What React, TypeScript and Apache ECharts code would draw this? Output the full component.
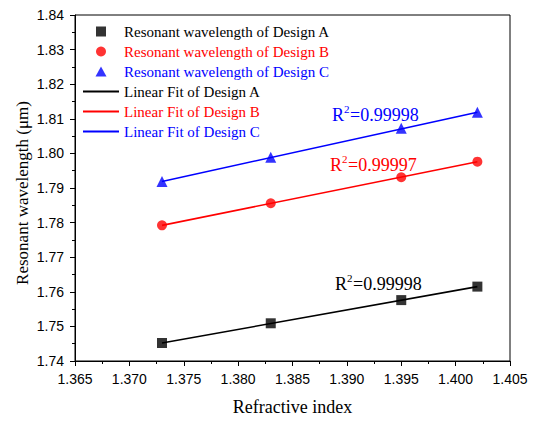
import React, { useEffect, useRef } from 'react';
import * as echarts from 'echarts';

const refractiveIndex = [1.373, 1.383, 1.395, 1.402];
const designA = [1.7452, 1.7509, 1.7576, 1.7615];
const designB = [1.7792, 1.7856, 1.7931, 1.7976];
const designC = [1.7919, 1.7989, 1.8073, 1.8119];
const fitX = [1.373, 1.402];
const fitA = [1.7452, 1.7615];
const fitB = [1.7792, 1.7976];
const fitC = [1.7919, 1.8119];
const markerNames = [
  'Resonant wavelength of Design A',
  'Resonant wavelength of Design B',
  'Resonant wavelength of Design C',
];
const fitNames = ['Linear Fit of Design A', 'Linear Fit of Design B', 'Linear Fit of Design C'];
const r2Values = ['0.99998', '0.99997', '0.99998'];
const xTitle = 'Refractive index';
const yTitle = 'Resonant wavelength (μm)';

const COLORS = ['#000000', '#ff0000', '#0000ff'];
const SYMBOLS = ['rect', 'circle', 'triangle'];
const SYMBOL_SIZES = [10, 10, 11];
const LEGEND_ICONS = [
  'path://M0,0h10v10h-10z',
  'path://M5,0A5,5,0,1,1,4.99,0z',
  'path://M5.5,0L11,10L0,10z',
];
const LINE_ICON = 'path://M0,0h36v2h-36z';
const SERIF = '"Liberation Serif", "Times New Roman", serif';
const SANS = '"Liberation Sans", Arial, sans-serif';

function r2Group(x: number, y: number, value: string, color: string) {
  return {
    type: 'group',
    x,
    y,
    children: [
      { type: 'text', x: 0, y: 0, style: { text: 'R', fontSize: 18, fontFamily: SERIF, fill: color, textVerticalAlign: 'middle' } },
      { type: 'text', x: 12, y: -6, style: { text: '2', fontSize: 11, fontFamily: SERIF, fill: color, textVerticalAlign: 'middle' } },
      { type: 'text', x: 18, y: 0, style: { text: '=' + value, fontSize: 18, fontFamily: SERIF, fill: color, textVerticalAlign: 'middle' } },
    ],
  };
}

export default function App() {
  const ref = useRef<HTMLDivElement>(null);
  useEffect(() => {
    if (!ref.current) return;
    const chart = echarts.init(ref.current, undefined, { renderer: 'svg' });
    const dataSets = [designA, designB, designC];
    const fits = [fitA, fitB, fitC];
    const series: any[] = [];
    dataSets.forEach((d, i) => {
      series.push({
        name: markerNames[i],
        type: 'scatter',
        symbol: SYMBOLS[i],
        symbolSize: SYMBOL_SIZES[i],
        itemStyle: { color: COLORS[i] },
        z: 5,
        data: refractiveIndex.map((x, j) => [x, d[j]]),
      });
    });
    fits.forEach((f, i) => {
      series.push({
        name: fitNames[i],
        type: 'line',
        symbol: 'none',
        showSymbol: false,
        lineStyle: { color: COLORS[i], width: 1.6 },
        itemStyle: { color: COLORS[i] },
        z: 3,
        data: fitX.map((x, j) => [x, f[j]]),
      });
    });
    const axisCommon = {
      axisLine: { show: true, lineStyle: { color: '#000', width: 1 } },
      axisTick: { show: true, inside: false, length: 5, lineStyle: { color: '#000' } },
      minorTick: { show: true, splitNumber: 2, length: 3, lineStyle: { color: '#000' } },
      splitLine: { show: false },
      minorSplitLine: { show: false },
    };
    const legendData = [
      ...markerNames.map((n, i) => ({
        name: n,
        icon: LEGEND_ICONS[i],
        itemStyle: { color: COLORS[i] },
        textStyle: { color: COLORS[i], fontSize: 15, fontFamily: SERIF },
      })),
      ...fitNames.map((n, i) => ({
        name: n,
        icon: LINE_ICON,
        itemStyle: { color: COLORS[i] },
        textStyle: { color: COLORS[i], fontSize: 15, fontFamily: SERIF },
      })),
    ];
    chart.setOption({
      animation: false,
      backgroundColor: '#fff',
      grid: { left: 75, right: 23, top: 15, bottom: 55, show: true, borderColor: '#000', borderWidth: 1, backgroundColor: 'transparent' },
      xAxis: {
        type: 'value',
        min: 1.365,
        max: 1.405,
        interval: 0.005,
        ...axisCommon,
        axisLabel: { margin: 11, fontSize: 14, fontFamily: SANS, color: '#000', formatter: (v: number) => v.toFixed(3) },
        name: xTitle,
        nameLocation: 'middle',
        nameGap: 37,
        nameTextStyle: { fontSize: 18, fontFamily: SERIF, color: '#000' },
      },
      yAxis: {
        type: 'value',
        min: 1.74,
        max: 1.84,
        interval: 0.01,
        ...axisCommon,
        axisLabel: { margin: 11, fontSize: 14, fontFamily: SANS, color: '#000', formatter: (v: number) => v.toFixed(2) },
      },
      legend: {
        orient: 'vertical',
        left: 78,
        top: 19,
        itemWidth: 36,
        itemHeight: 10,
        itemGap: 5,
        textStyle: { fontSize: 15, fontFamily: SERIF },
        data: legendData,
      },
      graphic: [
        {
          type: 'text',
          x: 22,
          y: 193,
          rotation: Math.PI / 2,
          style: { text: yTitle, fontSize: 17, fontFamily: SERIF, fill: '#000', textAlign: 'center', textVerticalAlign: 'middle' },
        },
        r2Group(332, 115, r2Values[2], COLORS[2]),
        r2Group(330, 165, r2Values[1], COLORS[1]),
        r2Group(335, 284, r2Values[0], COLORS[0]),
      ],
      series,
    });
    return () => chart.dispose();
  }, []);
  return <div ref={ref} style={{ position: 'fixed', left: 0, top: 0, width: 533, height: 421 }} />;
}
